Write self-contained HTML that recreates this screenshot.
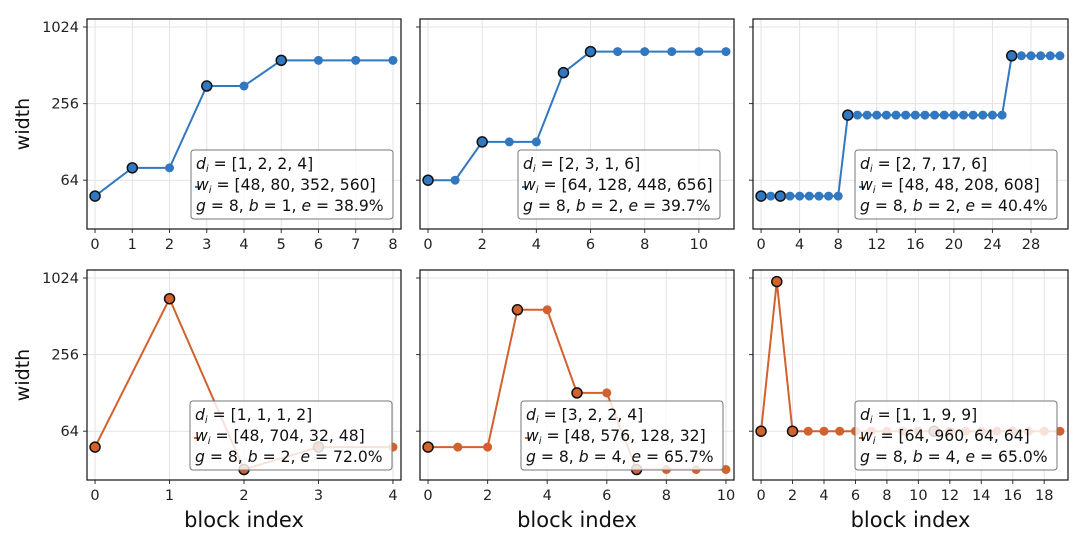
<!DOCTYPE html>
<html><head><meta charset="utf-8"><style>
html,body{margin:0;padding:0;background:#fff}
svg{display:block;font-family:"DejaVu Sans","Liberation Sans",sans-serif}
</style></head><body>
<svg id="chart" width="1080" height="541" viewBox="0 0 1080 541" xmlns="http://www.w3.org/2000/svg"></svg>
<script>
// Panel data (stage depths d, stage widths w, params)
const panelDepths = [[1,2,2,4],[2,3,1,6],[2,7,17,6],[1,1,1,2],[3,2,2,4],[1,1,9,9]];
const panelWidths = [[48,80,352,560],[64,128,448,656],[48,48,208,608],[48,704,32,48],[48,576,128,32],[64,960,64,64]];
const panelG = [8,8,8,8,8,8];
const panelB = [1,2,2,2,4,4];
const panelE = ["38.9%","39.7%","40.4%","72.0%","65.7%","65.0%"];
const xTickLabels = [[0,1,2,3,4,5,6,7,8],[0,2,4,6,8,10],[0,4,8,12,16,20,24,28],[0,1,2,3,4],[0,2,4,6,8,10],[0,2,4,6,8,10,12,14,16,18]];
const yTickLabels = [64,256,1024];

const NS="http://www.w3.org/2000/svg";
const svg=document.getElementById('chart');
function mk(tag,attrs,parent){const e=document.createElementNS(NS,tag);for(const k in attrs)e.setAttribute(k,attrs[k]);(parent||svg).appendChild(e);return e;}

const cols=[[87,401],[420,734],[753,1068]];
const rows=[[19,229],[270,480]];
const pxPerOct=38.3;
const colors=['#3278c1','#3278c1','#3278c1','#d1612e','#d1612e','#d1612e'];
const legendX=[191,518,855,190,521,855];

for(let p=0;p<6;p++){
  const r=Math.floor(p/3), c=p%3;
  const [x0,x1]=cols[c], [y0,y1]=rows[r];
  const d=panelDepths[p], w=panelWidths[p];
  const widths=[], firsts=[];
  d.forEach((n,i)=>{firsts.push(widths.length);for(let k=0;k<n;k++)widths.push(w[i]);});
  const N=widths.length;
  const pad=(N-1)*0.027;
  const xmin=-pad, xmax=(N-1)+pad;
  const X=v=>x0+(v-xmin)/(xmax-xmin)*(x1-x0);
  const y1024=y0+8;
  const Y=v=>y1024+(10-Math.log2(v))*pxPerOct;
  const g=mk('g',{});
  
  
  mk('defs',{},g).innerHTML=`<clipPath id="clip${p}"><rect x="${x0}" y="${y0}" width="${x1-x0}" height="${y1-y0}"/></clipPath>`;
  xTickLabels[p].forEach(t=>{
    const gl=mk('line',{x1:X(t),x2:X(t),y1:y0,y2:y1,stroke:'#e3e3e3','stroke-width':1},g);
    
    
    mk('line',{x1:X(t),x2:X(t),y1:y1,y2:y1+4,stroke:'#333','stroke-width':1},g);
    const tl=mk('text',{x:X(t),y:y1+20,'text-anchor':'middle','font-size':14.5,fill:'#222'},g);
    tl.textContent=t;
    
    
  });
  yTickLabels.forEach(t=>{
    const gl=mk('line',{x1:x0,x2:x1,y1:Y(t),y2:Y(t),stroke:'#e3e3e3','stroke-width':1},g);
    
    
    mk('line',{x1:x0-4,x2:x0,y1:Y(t),y2:Y(t),stroke:'#333','stroke-width':1},g);
    if(c===0){
      const tl=mk('text',{x:x0-8,y:Y(t)+5,'text-anchor':'end','font-size':14.5,fill:'#222'},g);
      tl.textContent=t;
      
      
    }
  });
  const sg=mk('g',{'clip-path':`url(#clip${p})`},g);
  const line=mk('polyline',{points:widths.map((v,i)=>X(i)+','+Y(v)).join(' '),fill:'none',stroke:colors[p],'stroke-width':2},sg);
  
  
  widths.forEach((v,i)=>{
    const isF=firsts.includes(i);
    const pt=mk('circle',{cx:X(i),cy:Y(v),r:isF?5:4.5,fill:colors[p],stroke:isF?'#111':'none','stroke-width':1.5},sg);
    
    
  });
  mk('rect',{x:x0,y:y0,width:x1-x0,height:y1-y0,fill:'none',stroke:'#222','stroke-width':1.3},g);
  const lx=legendX[p], ly=y0+131;
  const lg=mk('g',{},g);
  
  
  mk('rect',{x:lx,y:ly,width:202,height:69,rx:3,fill:'rgba(255,255,255,0.82)',stroke:'#777','stroke-width':1},lg);
  mk('line',{x1:lx+4,x2:lx+10,y1:ly+37,y2:ly+37,stroke:colors[p],'stroke-width':2},lg);
  const lines=[
    `<tspan font-style="italic">d</tspan><tspan font-style="italic" font-size="10" dy="3">i</tspan><tspan dy="-3"> = [${d.join(', ')}]</tspan>`,
    `<tspan font-style="italic">w</tspan><tspan font-style="italic" font-size="10" dy="3">i</tspan><tspan dy="-3"> = [${w.join(', ')}]</tspan>`,
    `<tspan font-style="italic">g</tspan> = ${panelG[p]}, <tspan font-style="italic">b</tspan> = ${panelB[p]}, <tspan font-style="italic">e</tspan> = ${panelE[p]}`
  ];
  lines.forEach((h,i)=>{
    const t=mk('text',{x:lx+5,y:ly+19+i*21,'font-size':15.6,fill:'#111'},lg);
    t.innerHTML=h;
    
    
  });
  if(c===0){
    const yl=mk('text',{x:0,y:0,'font-size':19,fill:'#111','text-anchor':'middle',transform:`translate(29,${(y0+y1)/2}) rotate(-90)`},g);
    yl.textContent='width';
    
    
  }
  if(r===1){
    const xl=mk('text',{x:(x0+x1)/2,y:527,'font-size':21,fill:'#111','text-anchor':'middle'},g);
    xl.textContent='block index';
    
    
  }
}
</script>
</body></html>
